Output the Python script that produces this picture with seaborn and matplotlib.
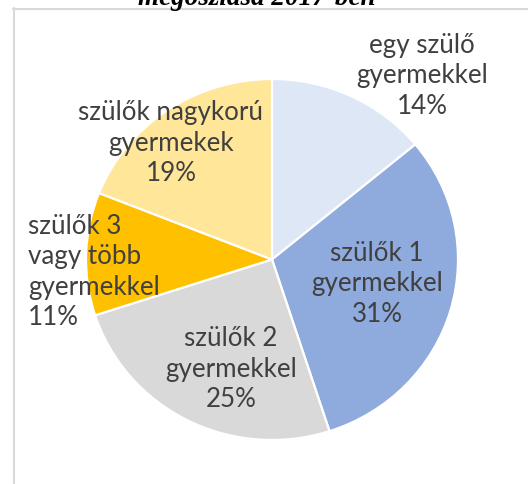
import matplotlib
matplotlib.use("Agg")
import matplotlib.pyplot as plt
from matplotlib.lines import Line2D
import seaborn as sns

# ---- data ----
categories = ["egy szülő\ngyermekkel", "szülők 1\ngyermekkel", "szülők 2\ngyermekkel",
              "szülők 3\nvagy több\ngyermekkel", "szülők nagykorú\ngyermekek"]
values = [14, 31, 25, 11, 19]
colors = ["#DDE7F5", "#8FAADC", "#D9D9D9", "#FFC000", "#FFE699"]
title_text = "megoszlása 2017-ben"

sns.set_theme(style="white")
plt.rcParams["font.family"] = ["Lato", "DejaVu Sans"]

W, H = 528, 484
fig = plt.figure(figsize=(W / 100, H / 100), dpi=100)
fig.patch.set_facecolor("white")

def fx(px):
    return px / W

def fy(py):
    return 1 - py / H

# pie axes box (pixel coords, top-based)
x0, x1, y0, y1 = 86, 458, 79, 440
ax = fig.add_axes([fx(x0), fy(y1), fx(x1) - fx(x0), (y1 - y0) / H])
wedges, _ = ax.pie(values, colors=colors, startangle=90, counterclock=False,
                   radius=1, wedgeprops=dict(edgecolor="white", linewidth=1.6))
ax.set_aspect("auto")
ax.set_xlim(-1, 1)
ax.set_ylim(-1, 1)
ax.axis("off")

# label positions (pixel centers) and alignment
label_pos = [(422, 76, "center"), (377, 284, "center"), (231, 369, "center"),
             (28, 272, "left"), (171, 143, "center")]
for cat, v, (px, py, ha) in zip(categories, values, label_pos):
    fig.text(fx(px), fy(py), f"{cat}\n{v}%", ha=ha, va="center",
             multialignment=ha, fontsize=18.7, color="#404040", linespacing=1.28)

# frame lines
fig.add_artist(Line2D([fx(13.5), fx(13.5)], [fy(8), 0], color="#D9D9D9", lw=1.5,
                      transform=fig.transFigure))
fig.add_artist(Line2D([fx(13), 1], [fy(8.5), fy(8.5)], color="#D9D9D9", lw=1.5,
                      transform=fig.transFigure))

# partially cropped title (cut off at the top edge, as in the reference)
fig.text(fx(257), fy(5), title_text, ha="center", va="baseline",
         fontsize=19.5, fontweight="bold", fontstyle="italic",
         family=["Liberation Serif", "DejaVu Serif"], color="black")

fig.savefig("out.png", dpi=100)
